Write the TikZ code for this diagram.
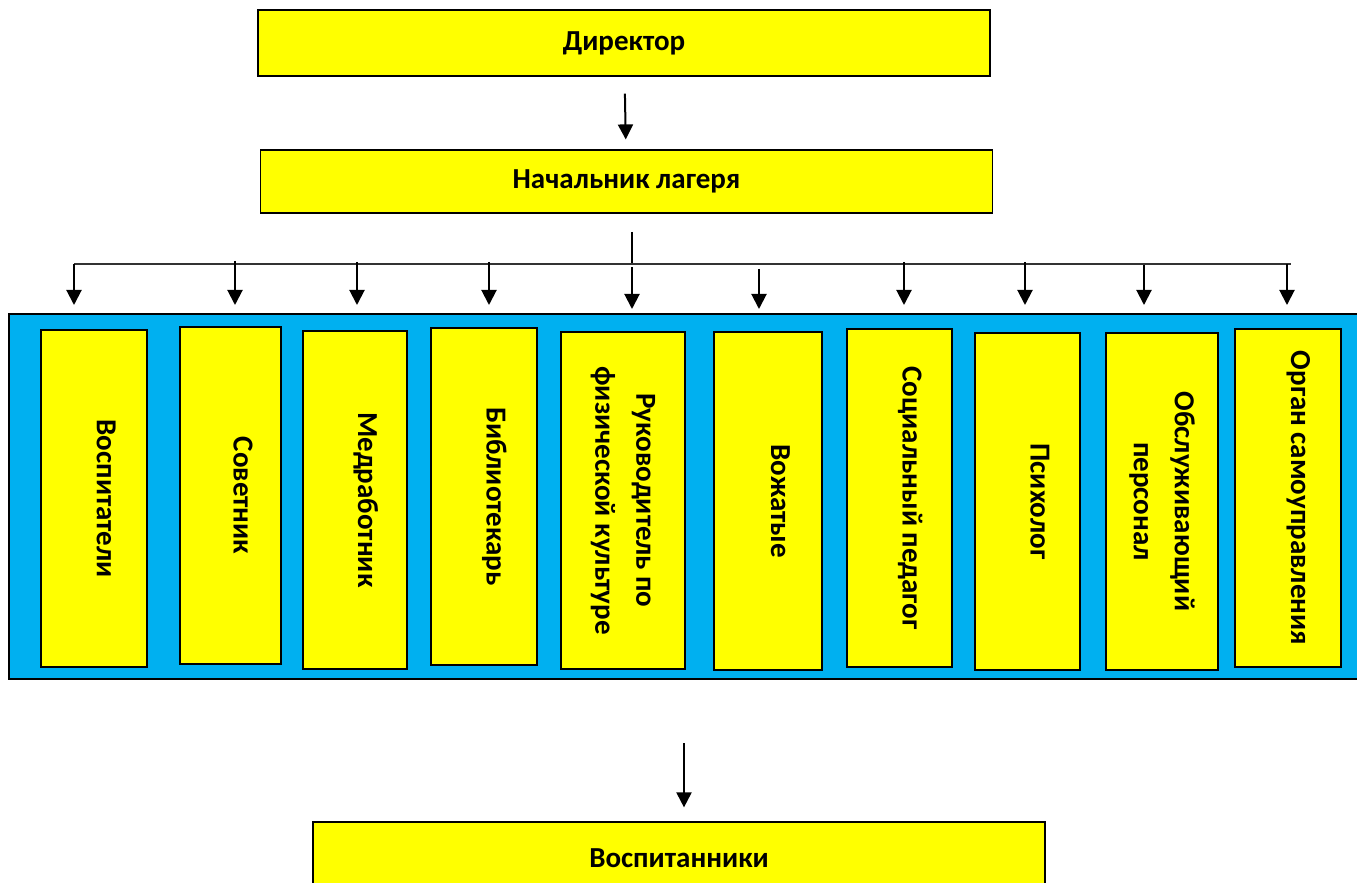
\documentclass[tikz,border=0pt]{standalone}
\usepackage{fontspec}
\setmainfont{Carlito}
\usepackage{tikz}
\usetikzlibrary{arrows.meta, positioning}
\definecolor{boxyellow}{HTML}{FFFF00}
\definecolor{staffblue}{HTML}{00B0F0}

\begin{document}
\begin{tikzpicture}[x=0.5pt,y=-0.5pt,->,>={Triangle[width=7.5pt,length=7.5pt]},line width=1pt,
  head box/.style={rectangle,draw,line width=0.6pt,fill=boxyellow,
  font=\fontsize{14.5}{17}\selectfont\bfseries,minimum width=366pt,inner sep=0pt},
  staff box/.style={rectangle,draw,line width=1pt,fill=boxyellow,rotate=-90,align=center,
  font=\fontsize{14.5}{20.5}\selectfont\bfseries,minimum width=168.5pt,inner sep=0pt},
  one line/.style={text height=9pt,text depth=12pt}]
  \useasboundingbox (0,0) rectangle (1357,883);

  \node[head box, minimum height=33pt] (dir) at (624,43) {Директор};
  \node[head box, minimum height=31.5pt] (nach) at (626.5,181.5) {Начальник лагеря};

  \node[rectangle,draw,line width=1pt,fill=staffblue,minimum width=678pt,minimum height=182.5pt] (staff) at (687,496.5) {};

  \node[staff box, one line, minimum height=53pt] (vos) at (94,498.5) {Воспитатели};
  \node[staff box, one line, minimum height=50.5pt] (sov) at (230.5,495.5) {Советник};
  \node[staff box, one line, minimum height=52pt] (med) at (355,500) {Медработник};
  \node[staff box, one line, minimum height=53pt] (bib) at (483.5,496.5) {Библиотекарь};
  \node[staff box, minimum height=62pt] (ruk) at (623,500.5) {Руководитель по\\физической культуре};
  \node[staff box, one line, minimum height=54pt] (voz) at (768,501) {Вожатые};
  \node[staff box, one line, minimum height=52.5pt] (soc) at (899.5,498) {Социальный педагог};
  \node[staff box, one line, minimum height=52.5pt] (psi) at (1027.5,501.5) {Психолог};
  \node[staff box, minimum height=56pt] (obs) at (1162,501.5) {Обслуживающий\\персонал};
  \node[staff box, one line, minimum height=53pt] (org) at (1288,498) {Орган самоуправления};

  \node[head box, minimum height=36.5pt] (vosp) at (679,858.5) {Воспитанники};

  % bus above the staff block
  \coordinate (tick) at (632,232);
  \coordinate (busl) at (74,264);
  \coordinate (busr) at (1291,264);
  \coordinate (a1) at (74,264);
  \coordinate (a2) at (235,261);
  \coordinate (a3) at (357,262);
  \coordinate (a4) at (489,262);
  \coordinate (a5) at (632,267);
  \coordinate (a6) at (759,269);
  \coordinate (a7) at (904,262);
  \coordinate (a8) at (1025,262);
  \coordinate (a9) at (1144,265);
  \coordinate (a10) at (1287,264);
  \coordinate (low) at (684,743);

  \draw[-] (tick) -- (tick |- busl);
  \draw[-,line width=0.7pt,draw=black!80] (busl) -- (busr);

  \path
    (dir) edge[shorten <=8.5pt, shorten >=5pt] (nach)
    (a1) edge[shorten >=4pt] (a1 |- staff.north)
    (a2) edge[shorten >=4pt] (a2 |- staff.north)
    (a3) edge[shorten >=4pt] (a3 |- staff.north)
    (a4) edge[shorten >=4pt] (a4 |- staff.north)
    (a5) edge[shorten >=2pt] (a5 |- staff.north)
    (a6) edge[shorten >=2pt] (a6 |- staff.north)
    (a7) edge[shorten >=4pt] (a7 |- staff.north)
    (a8) edge[shorten >=4pt] (a8 |- staff.north)
    (a9) edge[shorten >=4pt] (a9 |- staff.north)
    (a10) edge[shorten >=4pt] (a10 |- staff.north)
    (low) edge[shorten >=7pt] (low |- vosp.north);
\end{tikzpicture}
\end{document}
